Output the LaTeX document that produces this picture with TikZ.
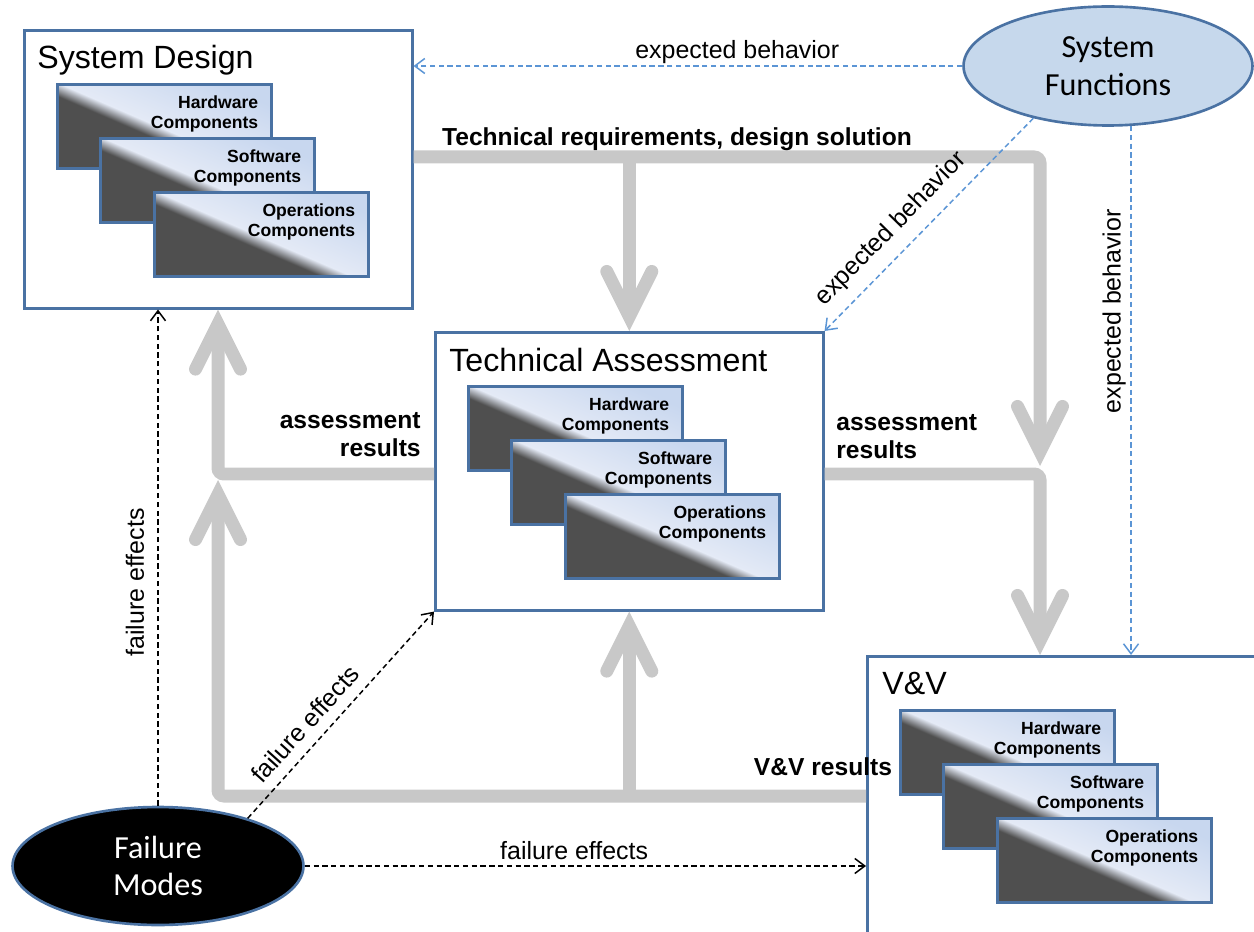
\documentclass[tikz,border=0pt]{standalone}
\usepackage{fontspec}
\setmainfont{Liberation Sans}
\newfontfamily\calibrifont{Carlito}
\usetikzlibrary{calc,positioning,shapes.geometric,arrows.meta}
\definecolor{boxblue}{HTML}{4A72A3}
\definecolor{flowgray}{HTML}{C8C8C8}
\definecolor{dashblue}{HTML}{5B95D5}
\definecolor{ellfill}{HTML}{C6D8EC}
\definecolor{carddark}{HTML}{4F4F4F}
\definecolor{cardpale}{HTML}{E4EAF6}
\definecolor{cardlight}{HTML}{C8D7EF}
\pgfdeclareverticalshading{cardfill}{100bp}{color(0bp)=(carddark); color(44bp)=(carddark); color(49bp)=(cardpale); color(75bp)=(cardlight); color(100bp)=(cardlight)}

\tikzset{
  stage/.style={draw=boxblue, line width=1.5pt, minimum width=7.76cm, minimum height=5.56cm, anchor=north west, inner sep=0pt},
  stagetitle/.style={anchor=north west, inner sep=0pt, font=\fontsize{18.3}{22}\selectfont},
  card/.style={draw=boxblue, line width=1.5pt, shade, shading=cardfill, shading angle=-23.4, minimum width=4.28cm, minimum height=1.68cm, anchor=north west, inner sep=0pt},
  cardtext/.style={anchor=north east, align=right, inner sep=0pt, xshift=-0.28cm, yshift=-0.24cm, font=\fontsize{10}{11.9}\selectfont\bfseries},
  oval/.style={ellipse, draw=boxblue, line width=1.5pt, align=center, inner sep=0pt, minimum width=5.78cm, minimum height=2.38cm, font=\calibrifont\fontsize{18.3}{21.5}\selectfont},
  flow/.style={draw=flowgray, line width=0.26cm, rounded corners=0.12cm, -{Straight Barb[length=0.9cm, width=0.9cm, line cap=round, line join=miter]}},
  flowlabel/.style={inner sep=0pt, align=center, font=\fontsize{14}{16}\selectfont\bfseries},
  expect/.style={draw=dashblue, line width=0.85pt, dash pattern=on 3pt off 2pt, -{Straight Barb[length=0.2cm, width=0.3cm]}},
  effect/.style={draw=black, line width=0.85pt, dash pattern=on 3pt off 2pt, -{Straight Barb[length=0.2cm, width=0.3cm]}},
  dashlabel/.style={inner sep=1pt, font=\fontsize{14.2}{16}\selectfont}
}

\begin{document}
\begin{tikzpicture}[x=0.02cm, y=-0.02cm]
  \clip (0,0) rectangle (1254,932);

  % the three stages
  \node[stage] (sd) at (23,29) {};
  \node[stage] (ta) at (434,331) {};
  \node[stage, minimum width=8.5cm, minimum height=6cm] (vv) at (866,655) {};
  \node[stagetitle] (sd-title) at ($(sd.north west)+(14,16)$) {System Design};
  \node[stagetitle] (ta-title) at ($(ta.north west)+(15,17)$) {Technical Assessment};
  \node[stagetitle] (vv-title) at ($(vv.north west)+(16,17)$) {V\&V};

  \foreach \s in {sd,ta,vv} {
    \node[card, label={[cardtext]north east:{Hardware\\Components}}] (\s-hw) at ($(\s.north west)+(33,54)$) {};
    \node[card, label={[cardtext]north east:{Software\\Components}}] (\s-sw) at ($(\s-hw.north west)+(43,54)$) {};
    \node[card, label={[cardtext]north east:{Operations\\Components}}] (\s-op) at ($(\s-sw.north west)+(54,54)$) {};
  }

  % inputs
  \node[oval, fill=ellfill] (sf) at (1108,66) {System\\Functions};
  \node[oval, fill=black, text=white, minimum width=5.82cm, minimum height=2.36cm] (fm) at (158,866) {Failure\\Modes};

  % gray flows
  \coordinate (c-top) at (1040,157);
  \coordinate (c-join) at (1040,474);
  \coordinate (c-left) at (218,474);
  \coordinate (c-bot) at (218,796);
  \draw[flow] (sd.east |- c-top) -- (c-top) -- ($(c-join)+(0,-8)$);
  \draw[flow] (ta.north |- c-top) -- (ta.north);
  \draw[flow] (ta.east |- c-join) -- (c-join) -- (c-join |- vv.north);
  \draw[flow] (ta.west |- c-join) -- (c-left) -- (c-left |- sd.south);
  \draw[flow] (vv.west |- c-bot) -- (c-bot) -- ($(c-left)+(0,6)$);
  \draw[flow] (ta.south |- c-bot) -- (ta.south);

  \node[flowlabel] (req-label) at (677,139) {Technical requirements, design solution};
  \node[flowlabel, align=right, anchor=south east] (ar-left) at (421,457) {assessment\\results};
  \node[flowlabel, align=left, anchor=south west] (ar-right) at (836,459) {assessment\\results};
  \node[flowlabel] (vv-label) at (823,767) {V\&V results};

  % expected behavior
  \draw[expect] (sf.west) -- (sd.east |- sf.west)
    node[dashlabel, pos=0.41, above] {expected behavior};
  \draw[expect] (sf.215) -- (ta.north east)
    node[dashlabel, pos=0.6, sloped, above, inner sep=6.5pt] {expected behavior};
  \draw[expect] (sf.291) -- (sf.291 |- vv.north)
    node[dashlabel, pos=0.35, rotate=90, anchor=south, inner sep=2.5pt] {expected behavior};

  % failure effects
  \draw[effect] (fm.north) -- (fm.north |- sd.south)
    node[dashlabel, pos=0.45, sloped, above, inner sep=7.5pt] {failure effects};
  \draw[effect] (fm.28) -- (ta.south west)
    node[dashlabel, pos=0.39, sloped, above, inner sep=6pt] {failure effects};
  \draw[effect] (fm.east) -- (vv.west |- fm.east)
    node[dashlabel, pos=0.48, above, inner sep=3pt] {failure effects};
\end{tikzpicture}
\end{document}
